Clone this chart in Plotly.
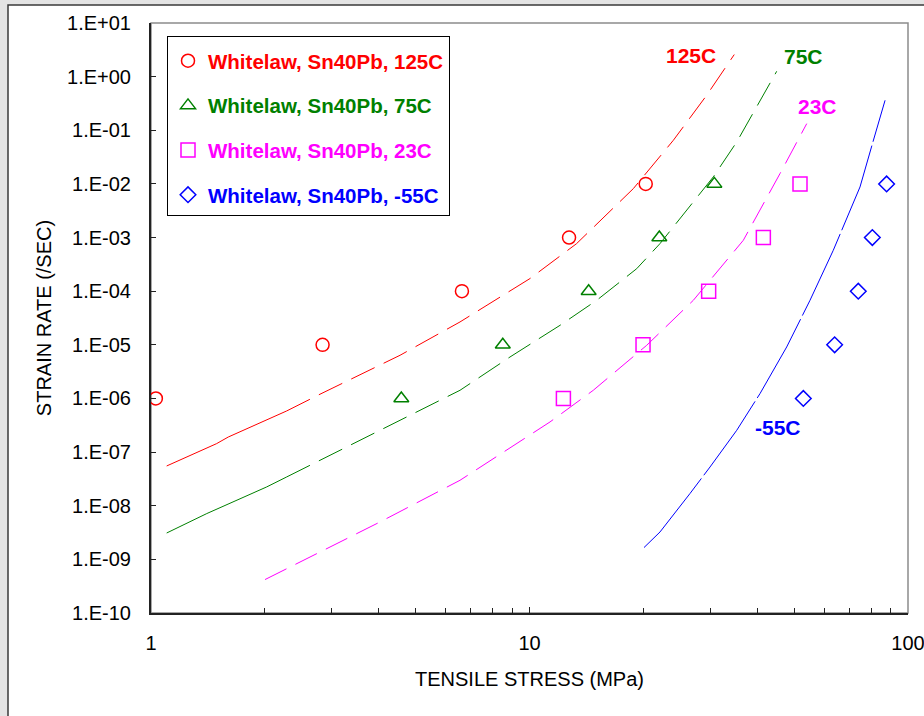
import plotly.graph_objects as go

# ---------------- data ----------------
rate_pts = [1e-6, 1e-5, 1e-4, 1e-3, 1e-2]
stress_125 = [1.03, 2.84, 6.63, 12.72, 20.28]
stress_75 = [4.585, 8.50, 14.33, 22.03, 30.79]
stress_23 = [12.29, 19.95, 29.74, 41.48, 51.84]
stress_m55 = [52.9, 64.0, 73.9, 80.5, 87.8]

# model curves
curve_125_x = [1.100, 1.491, 1.600, 2.021, 2.283, 2.796, 4.549, 6.552, 10.03, 13.32, 18.81, 23.99, 29.38, 34.75]
curve_125_y = [5.51e-8, 1.44e-7, 1.91e-7, 3.92e-7, 5.85e-7, 1.20e-6, 6.38e-6, 2.67e-5, 1.72e-4, 7.71e-4, 8.18e-3, 6.50e-2, 0.449, 2.58]

curve_75_x = [1.100, 1.404, 2.021, 2.283, 2.476, 4.549, 6.552, 8.881, 12.04, 15.05, 19.20, 22.12, 30.59, 35.28, 44.99]
curve_75_y = [3.10e-9, 7.14e-9, 2.24e-8, 3.44e-8, 4.58e-8, 3.92e-7, 1.42e-6, 5.93e-6, 2.31e-5, 6.76e-5, 2.63e-4, 7.71e-4, 1.35e-2, 6.05e-2, 1.257]

curve_23_x = [2.001, 4.027, 6.552, 11.33, 14.74, 20.40, 27.09, 36.72, 45.91, 54.01]
curve_23_y = [4.20e-10, 4.98e-9, 2.98e-8, 3.65e-7, 1.42e-6, 9.79e-6, 6.76e-5, 8.89e-4, 1.56e-2, 0.133]

curve_m55_x = [20.07, 22.12, 26.55, 29.99, 35.28, 40.64, 47.81, 55.09, 63.47, 74.68, 80.54, 86.98]
curve_m55_y = [1.66e-9, 3.24e-9, 1.69e-8, 5.28e-8, 2.55e-7, 1.23e-6, 9.12e-6, 6.76e-5, 5.78e-4, 8.77e-3, 5.62e-2, 0.362]

legend_names = ["Whitelaw, Sn40Pb, 125C", "Whitelaw, Sn40Pb, 75C",
                "Whitelaw, Sn40Pb, 23C", "Whitelaw, Sn40Pb, -55C"]
curve_labels = ["125C", "75C", "23C", "-55C"]

y_tickvals = [1e1, 1e0, 1e-1, 1e-2, 1e-3, 1e-4, 1e-5, 1e-6, 1e-7, 1e-8, 1e-9, 1e-10]
y_ticktext = ["1.E+01", "1.E+00", "1.E-01", "1.E-02", "1.E-03", "1.E-04",
              "1.E-05", "1.E-06", "1.E-07", "1.E-08", "1.E-09", "1.E-10"]
x_tickvals = [1, 10, 100]
x_ticktext = ["1", "10", "100"]

# ---------------- style ----------------
FONT = "Liberation Sans, Arial, sans-serif"
RED, GREEN, MAGENTA, BLUE = "#ff0000", "#008000", "#ff00ff", "#0000ff"

W, H = 924, 716
ML, MR, MT, MB = 151, 16, 23, 103
PW, PH = W - ML - MR, H - MT - MB


def px(xp):
    return (xp - ML) / PW


def py(yp):
    return 1 - (yp - MT) / PH


fig = go.Figure()

# curves (solid lower part where applicable + dashed remainder)
solid_n = {"125": 5, "75": 4}


def add_curve(xs, ys, color, n_solid, dash):
    if n_solid:
        fig.add_trace(go.Scatter(x=xs[:n_solid], y=ys[:n_solid], mode="lines",
                                 line=dict(color=color, width=1), showlegend=False,
                                 hoverinfo="skip"))
        xs, ys = xs[n_solid - 1:], ys[n_solid - 1:]
    fig.add_trace(go.Scatter(x=xs, y=ys, mode="lines",
                             line=dict(color=color, width=1, dash=dash),
                             showlegend=False, hoverinfo="skip"))


add_curve(curve_125_x, curve_125_y, RED, solid_n["125"], "26px,10px")
add_curve(curve_75_x, curve_75_y, GREEN, solid_n["75"], "26px,10px")
add_curve(curve_23_x, curve_23_y, MAGENTA, 0, "24px,10px")
add_curve(curve_m55_x, curve_m55_y, BLUE, 0, "90px,4px")

# measured points
series = [
    (stress_125, RED, "circle-open", 13),
    (stress_75, GREEN, "triangle-up-open", 13),
    (stress_23, MAGENTA, "square-open", 14),
    (stress_m55, BLUE, "diamond-open", 12),
]
for i, (xs, color, sym, size) in enumerate(series):
    fig.add_trace(go.Scatter(
        x=xs, y=rate_pts, mode="markers",
        marker=dict(symbol=sym, size=size, color=color, line=dict(color=color, width=1.5)),
        name=f'<span style="color:{color}"><b>{legend_names[i]}</b></span>',
        legendgroup=f"g{i}", showlegend=True))

# curve labels
label_pos = [(691, 55, RED), (803, 56, GREEN), (817, 107, MAGENTA), (778, 428, BLUE)]
for txt, (xp, yp, c) in zip(curve_labels, label_pos):
    fig.add_annotation(x=px(xp), y=py(yp), xref="paper", yref="paper", text=f"<b>{txt}</b>",
                       showarrow=False, font=dict(family=FONT, size=21, color=c),
                       xanchor="center", yanchor="middle")

# outer chart frame (grey surround, white chart area with dark border)
fig.add_shape(type="rect", xref="paper", yref="paper",
              x0=px(8), x1=px(940), y0=py(730), y1=py(5),
              fillcolor="white", line=dict(color="#3a3a3a", width=1.5), layer="below")
# plot-area border (grey top/right)
fig.add_shape(type="rect", xref="paper", yref="paper", x0=0, x1=1, y0=0, y1=1,
              line=dict(color="#8c8c8c", width=1.5), layer="below")

axis_font = dict(family=FONT, size=20, color="black")

fig.update_layout(
    width=W, height=H,
    margin=dict(l=ML, r=MR, t=MT, b=MB, autoexpand=False),
    paper_bgcolor="#e4e4e4",
    plot_bgcolor="white",
    font=dict(family=FONT, size=20, color="black"),
    showlegend=True,
    legend=dict(x=px(167), y=py(36), xanchor="left", yanchor="top",
                bgcolor="white", bordercolor="black", borderwidth=1,
                font=dict(family=FONT, size=20.5), tracegroupgap=15,
                itemwidth=30,
                title=dict(text=" ", font=dict(size=3))),
    xaxis=dict(type="log", range=[0, 2], showgrid=False, zeroline=False,
               automargin=False,
               showline=True, linecolor="#222222", linewidth=2,
               ticks="inside", ticklen=6, tickwidth=1, tickcolor="#222222",
               tickvals=x_tickvals, ticktext=x_ticktext, tickfont=axis_font,
               ticklabelstandoff=11, ticklabeloverflow="allow",
               minor=dict(ticks="inside", ticklen=5, tickwidth=1, tickcolor="#222222",
                          tickvals=[m * d for d in (1, 10) for m in range(2, 10)],
                          showgrid=False),
               title=dict(text="TENSILE STRESS (MPa)", font=axis_font, standoff=19)),
    yaxis=dict(type="log", range=[-10, 1], showgrid=False, zeroline=False,
               automargin=False,
               showline=True, linecolor="#222222", linewidth=2,
               ticks="inside", ticklen=5, tickwidth=1, tickcolor="#222222",
               tickvals=y_tickvals, ticktext=y_ticktext, tickfont=axis_font,
               ticklabelstandoff=14,
               title=dict(text="STRAIN RATE (/SEC)", font=axis_font, standoff=10)),
)

fig.write_html("out.html")
